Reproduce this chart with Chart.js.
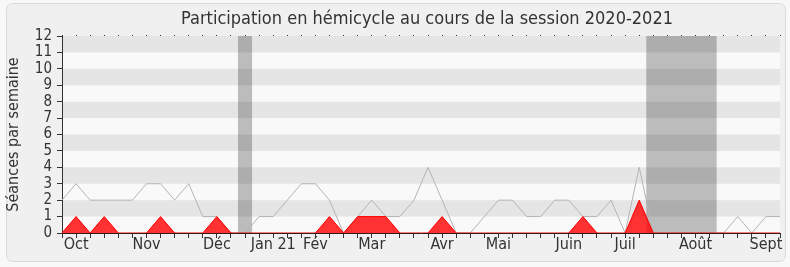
<!DOCTYPE html>
<html><head><meta charset="utf-8">
<script src="https://cdn.jsdelivr.net/npm/chart.js@4/dist/chart.umd.min.js"></script>
<style>html,body{margin:0;padding:0;background:#f8f8f8;} canvas{display:block;}</style>
</head><body>
<canvas id="c" width="790" height="267"></canvas>
<script>
const FONT = '"DejaVu Sans Condensed", "DejaVu Sans", sans-serif';
const titre = 'Participation en hémicycle au cours de la session 2020-2021';
const titreAxeY = 'Séances par semaine';

// months, named on the week where they are marked
const moisNoms = ['Oct', 'Nov', 'Déc', 'Jan 21', 'Fév', 'Mar', 'Avr', 'Mai', 'Juin', 'Juil', 'Août', 'Sept'];
const moisSemaine = [1, 6, 11, 15, 18, 22, 27, 31, 36, 40, 45, 50];

// sittings per week (52 weeks)
const seancesTotal = [2, 3, 2, 2, 2, 2, 3, 3, 2, 3, 1, 1, 0, 0, 1, 1, 2, 3, 3, 2,
  0, 1, 2, 1, 1, 2, 4, 2, 0, 0, 1, 2, 2, 1, 1, 2, 2, 1, 1, 2,
  0, 4, 0, 0, 0, 0, 0, 0, 1, 0, 1, 1];
const seancesPresent = [0, 1, 0, 1, 0, 0, 0, 1, 0, 0, 0, 1, 0, 0, 0, 0, 0, 0, 0, 1,
  0, 1, 1, 1, 0, 0, 0, 1, 0, 0, 0, 0, 0, 0, 0, 0, 0, 1, 0, 0,
  0, 2, 0, 0, 0, 0, 0, 0, 0, 0, 0, 0];

// parliamentary recesses, first and last week
const vacances = [[13, 13], [42, 46]];

const semaines = seancesTotal.map((_, i) => {
  const k = moisSemaine.indexOf(i);
  return k >= 0 ? moisNoms[k] : '';
});

const fond = {
  id: 'fond',
  beforeDraw(chart) {
    const {ctx, chartArea: a, scales: {x, y}} = chart;
    ctx.save();
    // rounded panel
    ctx.fillStyle = '#f0f0f0';
    ctx.strokeStyle = '#d9d9d9';
    ctx.lineWidth = 1;
    ctx.beginPath();
    ctx.roundRect(6.5, 3.5, 779, 258, 6);
    ctx.fill();
    ctx.stroke();
    // plot background
    ctx.fillStyle = '#f9f9f9';
    ctx.fillRect(a.left, a.top, a.right - a.left, a.bottom - a.top);
    // recess weeks
    ctx.fillStyle = '#bcbcbc';
    vacances.forEach(([d, f]) => {
      const l = x.getPixelForValue(d - 0.5), r = x.getPixelForValue(f + 0.5);
      ctx.fillRect(l, a.top, r - l, a.bottom - a.top);
    });
    // alternating bands, one per unit
    ctx.fillStyle = 'rgba(0,0,0,0.08)';
    for (let v = 1; v < 12; v += 2) {
      const t = y.getPixelForValue(v + 1), b = y.getPixelForValue(v);
      ctx.fillRect(a.left, t, a.right - a.left, b - t);
    }
    ctx.restore();
  },
  afterDraw(chart) {
    const {ctx} = chart;
    ctx.save();
    ctx.font = '18px ' + FONT;
    ctx.fillStyle = '#333333';
    ctx.textAlign = 'center';
    ctx.textBaseline = 'middle';
    ctx.fillText(titre, 427, 19);
    ctx.restore();
  }
};

new Chart(document.getElementById('c'), {
  type: 'line',
  data: {
    labels: semaines,
    datasets: [
      {
        label: 'Présences',
        data: seancesPresent,
        borderColor: '#ff0000',
        backgroundColor: 'rgba(255,0,0,0.8)',
        borderWidth: 1,
        fill: 'origin',
        pointRadius: 0,
        tension: 0
      },
      {
        label: 'Séances',
        data: seancesTotal,
        borderColor: '#b4b4b4',
        borderWidth: 1,
        fill: false,
        pointRadius: 0,
        tension: 0
      }
    ]
  },
  options: {
    responsive: false,
    animation: false,
    devicePixelRatio: 1,
    layout: {padding: {top: 36, right: 10, bottom: 0, left: 0}},
    plugins: {legend: {display: false}, tooltip: {enabled: false}, title: {display: false}},
    scales: {
      x: {
        type: 'category',
        offset: false,
        z: 1,
        grid: {drawOnChartArea: false, tickLength: 5, tickColor: '#333333'},
        border: {color: '#331a1a', width: 1},
        ticks: {
          autoSkip: false, maxRotation: 0, minRotation: 0, padding: -1.5,
          color: '#333333', font: {family: FONT, size: 16, lineHeight: 1}
        },
        afterFit(s) { s.height = 34; }
      },
      x2: {
        type: 'category',
        position: 'top',
        offset: false,
        grid: {drawOnChartArea: false, tickLength: 1, tickColor: '#333333'},
        border: {display: false},
        ticks: {display: false},
        afterFit(s) { s.height = 0; }
      },
      y: {
        min: 0, max: 12,
        grid: {drawOnChartArea: false, tickLength: 5, tickColor: '#333333'},
        border: {color: '#333333', width: 1},
        ticks: {stepSize: 1, autoSkip: false, padding: 5, color: '#333333', font: {family: FONT, size: 15}},
        title: {display: true, text: titreAxeY, color: '#333333', font: {family: FONT, size: 16}, padding: {top: 4.5, bottom: 0}},
        afterFit(s) { s.width = 62; }
      }
    }
  },
  plugins: [fond]
});
</script>
</body></html>
